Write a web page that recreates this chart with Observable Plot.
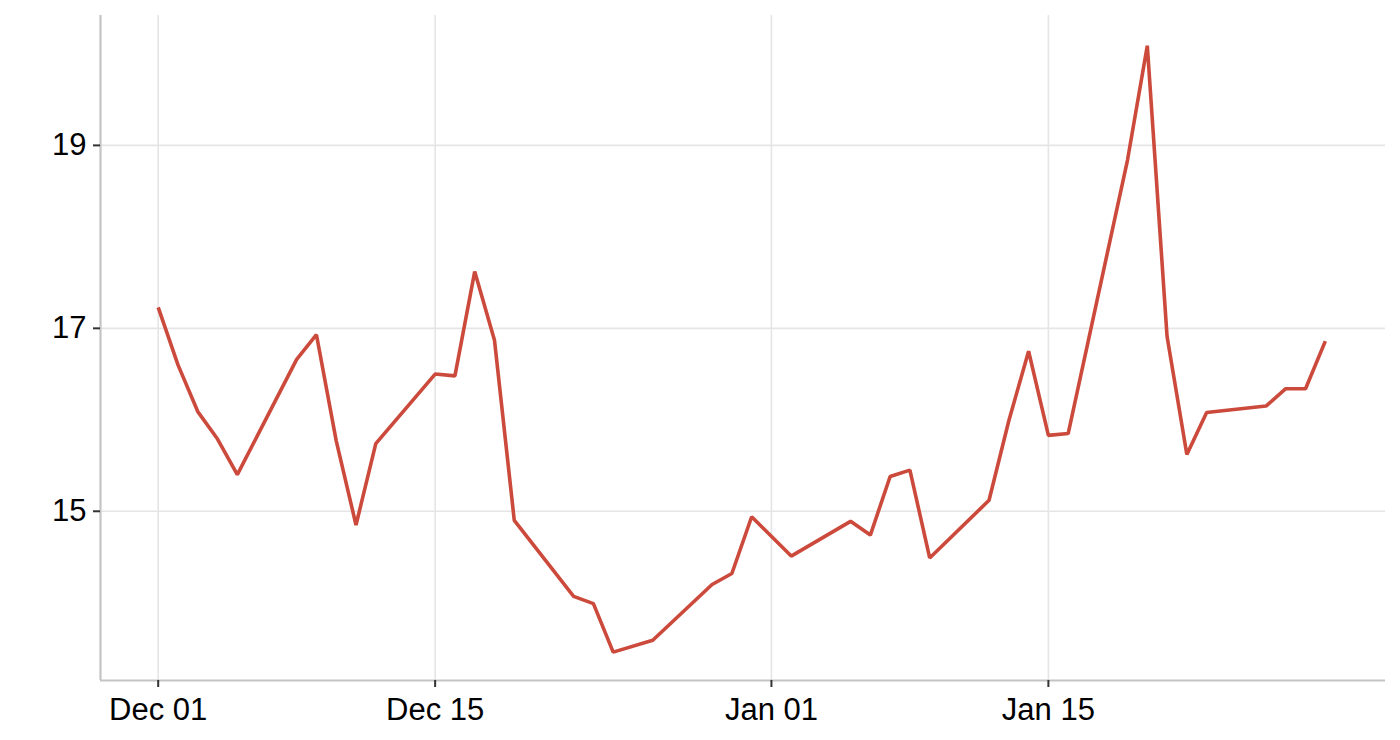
<!DOCTYPE html>
<html>
<head>
<meta charset="utf-8">
<script src="https://cdn.jsdelivr.net/npm/d3@7"></script>
<script src="https://cdn.jsdelivr.net/npm/@observablehq/plot@0.6"></script>
<style>
  html, body { margin: 0; padding: 0; background: #fff; }
  #chart { width: 1400px; height: 740px; }
</style>
</head>
<body>
<div id="chart"></div>
<script>
const dates = [
  "2014-12-01","2014-12-02","2014-12-03","2014-12-04","2014-12-05",
  "2014-12-08","2014-12-09","2014-12-10","2014-12-11","2014-12-12",
  "2014-12-15","2014-12-16","2014-12-17","2014-12-18","2014-12-19",
  "2014-12-22","2014-12-23","2014-12-24","2014-12-26",
  "2014-12-29","2014-12-30","2014-12-31","2015-01-02",
  "2015-01-05","2015-01-06","2015-01-07","2015-01-08","2015-01-09",
  "2015-01-12","2015-01-13","2015-01-14","2015-01-15","2015-01-16",
  "2015-01-19","2015-01-20","2015-01-21","2015-01-22","2015-01-23",
  "2015-01-26","2015-01-27","2015-01-28","2015-01-29"
];
const values = [
  17.23, 16.60, 16.09, 15.79, 15.40,
  16.66, 16.93, 15.77, 14.85, 15.74,
  16.50, 16.48, 17.62, 16.87, 14.90,
  14.07, 13.99, 13.46, 13.59,
  14.20, 14.32, 14.94, 14.51,
  14.89, 14.74, 15.38, 15.45, 14.49,
  15.12, 15.99, 16.75, 15.83, 15.85,
  18.84, 20.09, 16.91, 15.62, 16.08,
  16.15, 16.34, 16.34, 16.86
];
const xTickDates = ["2014-12-01","2014-12-15","2015-01-01","2015-01-15"];
const yTicks = [15, 17, 19];
const xDomain = ["2014-11-28T02:00:00Z", "2015-02-01T01:00:00Z"];
const yDomain = [13.15, 20.42];

const data = dates.map((d, i) => ({date: new Date(d + "T00:00:00Z"), value: values[i]}));
const xTicks = xTickDates.map(d => new Date(d + "T00:00:00Z"));
const xDom = xDomain.map(d => new Date(d));

const chart = Plot.plot({
  width: 1400,
  height: 740,
  marginLeft: 100,
  marginRight: 15,
  marginTop: 15,
  marginBottom: 60,
  style: {fontFamily: "'Liberation Sans', Arial, sans-serif", fontSize: "31px", color: "#000", background: "#fff"},
  x: {type: "utc", domain: xDom},
  y: {domain: yDomain},
  marks: [
    Plot.gridX(xTicks, {stroke: "#e5e5e5", strokeOpacity: 1, strokeWidth: 1.6}),
    Plot.gridY(yTicks, {stroke: "#e5e5e5", strokeOpacity: 1, strokeWidth: 1.6}),
    Plot.ruleX([xDom[0]], {stroke: "#c4c4c4", strokeWidth: 2.2}),
    Plot.ruleY([yDomain[0]], {stroke: "#c4c4c4", strokeWidth: 2.2}),
    Plot.axisX(xTicks, {tickSize: 7, tickPadding: 10, stroke: "#333", strokeWidth: 2, tickFormat: d3.utcFormat("%b %d"), label: null, fill: "#000", fontSize: 31}),
    Plot.axisY(yTicks, {tickSize: 7, tickPadding: 7, stroke: "#333", strokeWidth: 2, tickFormat: d => String(d), label: null, fill: "#000", fontSize: 31}),
    Plot.line(data, {x: "date", y: "value", stroke: "#CC4A3C", strokeWidth: 3.6, strokeLinejoin: "miter", strokeLinecap: "butt"})
  ]
});
document.getElementById("chart").appendChild(chart);
</script>
</body>
</html>
